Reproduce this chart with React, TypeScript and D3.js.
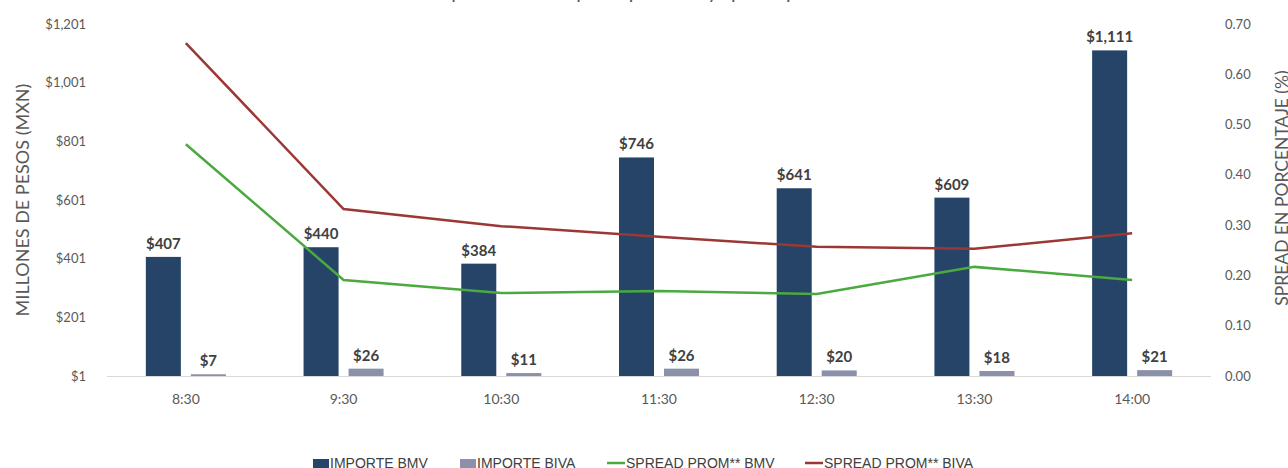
import { useRef, useEffect } from 'react';
import * as d3 from 'd3';

const horas = ['8:30', '9:30', '10:30', '11:30', '12:30', '13:30', '14:00'];
const importeBMV = [407, 440, 384, 746, 641, 609, 1111];
const importeBIVA = [7, 26, 11, 26, 20, 18, 21];
const spreadBMV = [0.461, 0.191, 0.165, 0.169, 0.163, 0.217, 0.191];
const spreadBIVA = [0.662, 0.332, 0.298, 0.277, 0.257, 0.253, 0.284];
const ticksPesos = [1, 201, 401, 601, 801, 1001, 1201];
const ticksSpread = [0, 0.1, 0.2, 0.3, 0.4, 0.5, 0.6, 0.7];
const series = ['IMPORTE BMV', 'IMPORTE BIVA'];

const COLOR_BMV = '#264468';
const COLOR_BIVA = '#8b91aa';
const COLOR_GREEN = '#4aa93f';
const COLOR_RED = '#9b3835';
const FONT = 'Lato, "Open Sans", sans-serif';

export default function App() {
    const ref = useRef<SVGSVGElement>(null);

    useEffect(() => {
        if (!ref.current) return;
        const svg = d3.select(ref.current);
        svg.selectAll('*').remove();

        const width = 1288;
        const height = 468;
        const left = 107;
        const right = 1211;
        const top = 24;
        const bottom = 376;

        // Scales
        const x0 = d3.scaleBand().domain(horas).range([left, right]);
        const x1 = d3.scaleBand()
            .domain(series)
            .range([0, x0.bandwidth()])
            .paddingInner(0.222)
            .paddingOuter(0.863);
        const yL = d3.scaleLinear().domain([1, 1201]).range([bottom, top]);
        const yR = d3.scaleLinear().domain([0, 0.7]).range([bottom, top]);

        svg.attr('width', width).attr('height', height);

        // Title (mostly cut off at the top)
        svg.append('text')
            .attr('x', 640)
            .attr('y', -1)
            .attr('text-anchor', 'middle')
            .attr('font-family', FONT)
            .attr('font-size', '20px')
            .attr('fill', '#595959')
            .text('Comparativo de importe por hora y spread promedio');

        // Baseline
        svg.append('line')
            .attr('x1', left)
            .attr('x2', right)
            .attr('y1', bottom + 0.5)
            .attr('y2', bottom + 0.5)
            .attr('stroke', '#d9d9d9')
            .attr('stroke-width', 1);

        // Left axis labels
        svg.append('g')
            .selectAll('text')
            .data(ticksPesos)
            .enter()
            .append('text')
            .attr('x', 86)
            .attr('y', d => yL(d))
            .attr('dy', '0.35em')
            .attr('text-anchor', 'end')
            .attr('font-family', FONT)
            .attr('font-size', '13px')
            .attr('fill', '#595959')
            .text(d => '$' + d3.format(',')(d));

        // Right axis labels
        svg.append('g')
            .selectAll('text')
            .data(ticksSpread)
            .enter()
            .append('text')
            .attr('x', 1225)
            .attr('y', d => yR(d))
            .attr('dy', '0.35em')
            .attr('font-family', FONT)
            .attr('font-size', '13px')
            .attr('fill', '#595959')
            .text(d => d.toFixed(2));

        // Category labels
        svg.append('g')
            .selectAll('text')
            .data(horas)
            .enter()
            .append('text')
            .attr('x', d => x0(d)! + x0.bandwidth() / 2)
            .attr('y', 404)
            .attr('text-anchor', 'middle')
            .attr('font-family', FONT)
            .attr('font-size', '14px')
            .attr('fill', '#595959')
            .text(d => d);

        // Axis titles
        svg.append('text')
            .attr('transform', `translate(23,200) rotate(-90)`)
            .attr('dy', '0.35em')
            .attr('text-anchor', 'middle')
            .attr('font-family', FONT)
            .attr('font-size', '18px')
            .attr('fill', '#595959')
            .text('MILLONES DE PESOS (MXN)');

        svg.append('text')
            .attr('transform', `translate(1282,188) rotate(-90)`)
            .attr('dy', '0.35em')
            .attr('text-anchor', 'middle')
            .attr('font-family', FONT)
            .attr('font-size', '17.5px')
            .attr('fill', '#595959')
            .text('SPREAD EN PORCENTAJE (%)');

        // Bars
        const rows = horas.map((h, i) => ({
            hora: h,
            values: [
                { key: series[0], v: importeBMV[i], color: COLOR_BMV },
                { key: series[1], v: importeBIVA[i], color: COLOR_BIVA },
            ],
        }));

        const groups = svg.append('g')
            .selectAll('g')
            .data(rows)
            .enter()
            .append('g')
            .attr('transform', d => `translate(${x0(d.hora)},0)`);

        groups.selectAll('rect')
            .data(d => d.values)
            .enter()
            .append('rect')
            .attr('x', d => x1(d.key)!)
            .attr('y', d => yL(d.v))
            .attr('width', x1.bandwidth())
            .attr('height', d => yL(1) - yL(d.v))
            .attr('fill', d => d.color);

        groups.selectAll('text')
            .data(d => d.values)
            .enter()
            .append('text')
            .attr('x', d => x1(d.key)! + x1.bandwidth() / 2)
            .attr('y', d => yL(d.v) - 8)
            .attr('text-anchor', 'middle')
            .attr('font-family', FONT)
            .attr('font-size', '15px')
            .attr('font-weight', '700')
            .attr('fill', '#404040')
            .text(d => '$' + d3.format(',')(d.v));

        // Lines
        const cx = (h: string) => x0(h)! + x0.bandwidth() / 2;
        const line = d3.line<number>()
            .x((_, i) => cx(horas[i]))
            .y(d => yR(d));

        svg.append('path')
            .attr('d', line(spreadBMV)!)
            .attr('fill', 'none')
            .attr('stroke', COLOR_GREEN)
            .attr('stroke-width', 2.5);

        svg.append('path')
            .attr('d', line(spreadBIVA)!)
            .attr('fill', 'none')
            .attr('stroke', COLOR_RED)
            .attr('stroke-width', 2.5);

        // Legend
        const legend = [
            { label: 'IMPORTE BMV', color: COLOR_BMV, type: 'rect', x: 313 },
            { label: 'IMPORTE BIVA', color: COLOR_BIVA, type: 'rect', x: 460 },
            { label: 'SPREAD PROM** BMV', color: COLOR_GREEN, type: 'line', x: 607 },
            { label: 'SPREAD PROM** BIVA', color: COLOR_RED, type: 'line', x: 805 },
        ];
        const lg = svg.append('g')
            .selectAll('g')
            .data(legend)
            .enter()
            .append('g')
            .attr('transform', d => `translate(${d.x},0)`);

        lg.filter(d => d.type === 'rect')
            .append('rect')
            .attr('x', 0)
            .attr('y', 459)
            .attr('width', 16)
            .attr('height', 10)
            .attr('fill', d => d.color);

        lg.filter(d => d.type === 'line')
            .append('line')
            .attr('x1', 0)
            .attr('x2', 18)
            .attr('y1', 463)
            .attr('y2', 463)
            .attr('stroke', d => d.color)
            .attr('stroke-width', 2.5);

        lg.append('text')
            .attr('x', d => (d.type === 'rect' ? 17 : 19))
            .attr('y', 468)
            .attr('font-family', '"Liberation Sans", Arial, sans-serif')
            .attr('font-size', '14px')
            .attr('fill', '#404040')
            .text(d => d.label);
    }, []);

    return (
        <div style={{ position: 'absolute', left: 0, top: 0 }}>
            <svg ref={ref} style={{ display: 'block' }}></svg>
        </div>
    );
}
